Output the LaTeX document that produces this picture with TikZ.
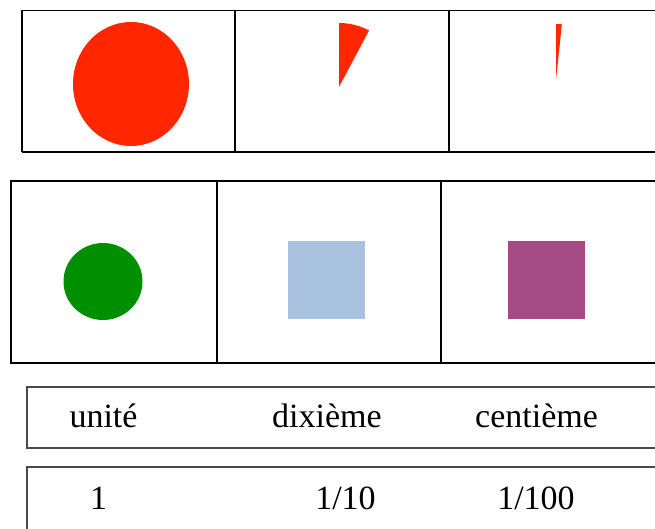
\documentclass[tikz,border=0pt]{standalone}
\usepackage{fontspec}
\setmainfont{Liberation Serif}
\definecolor{pagered}{HTML}{FF2600}
\definecolor{pagegreen}{HTML}{008F00}
\definecolor{paleblue}{HTML}{A9C2E0}
\definecolor{plum}{HTML}{A54A85}
\definecolor{boxgray}{HTML}{4A4A4A}
\tikzset{
  thinrule/.style={draw=black, line width=1.1pt},
  thickrule/.style={draw=black, line width=2pt},
  grayrule/.style={draw=boxgray, line width=1.4pt},
  label/.style={font=\fontsize{34}{40}\selectfont, anchor=base, inner sep=0pt, text=black}
}
\begin{document}
\begin{tikzpicture}[x=1pt,y=-1pt]
\useasboundingbox (0,0) rectangle (655,529);
% top table
\draw[thinrule] (655,10.5) -- (22,10.5) -- (22,152);
\draw[thinrule] (235,10.5) -- (235,152);
\draw[thinrule] (449,10.5) -- (449,152);
\draw[thickrule] (22,152.5) -- (655,152.5);
\fill[pagered] (131,84) ellipse [x radius=58, y radius=62];
\fill[pagered] (339,87) -- ++(270:64) arc[start angle=270, end angle=298, radius=64] -- cycle;
\fill[pagered] (556,80) -- ++(270:56) arc[start angle=270, end angle=276, radius=56] -- cycle;
% middle table
\draw[thickrule] (655,181) -- (11,181) -- (11,363) -- (655,363);
\draw[thickrule] (217,181) -- (217,363);
\draw[thickrule] (440.5,181) -- (440.5,363);
\fill[pagegreen] (103,281.5) ellipse [x radius=39.5, y radius=38.5];
\fill[paleblue] (288,241) rectangle (365,319);
\fill[plum] (508,241) rectangle (585,319);
% bottom boxes
\draw[grayrule] (655,387) -- (27,387) -- (27,448) -- (655,448);
\draw[grayrule] (655,467) -- (27,467) -- (27,529);
\node[label] (u) at (103.5,427) {unité};
\node[label] (d) at (327,427) {dixième};
\node[label] (c) at (536.5,427) {centième};
\node[label] (n1) at (98.5,509) {1};
\node[label] (n10) at (345.5,509) {1/10};
\node[label] (n100) at (536,509) {1/100};
\end{tikzpicture}
\end{document}
